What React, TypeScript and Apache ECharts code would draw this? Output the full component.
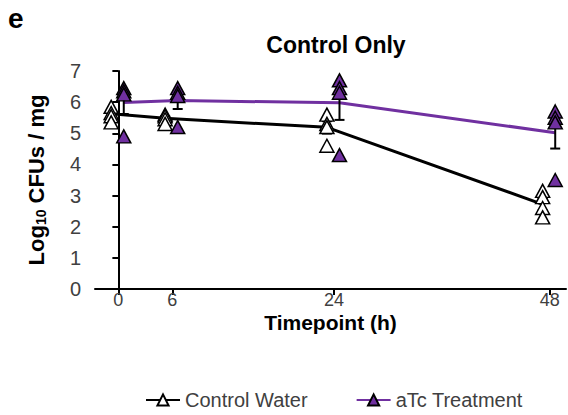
import React, { useEffect, useRef } from "react";
import * as echarts from "echarts";

const hours = [0, 6, 24, 48];
const tickLabels = ["0", "6", "24", "48"];
const controlMean = [5.63, 5.48, 5.19, 2.72];
const controlSem = [0.1, 0.07, 0.2, 0.2];
const atcMean = [5.99, 6.05, 5.98, 5.02];
const atcSem = [0.37, 0.27, 0.55, 0.51];
const controlReps = [
  [5.85, 5.65, 5.55, 5.35],
  [5.6, 5.55, 5.45, 5.3],
  [5.6, 5.3, 5.2, 4.6],
  [3.15, 2.95, 2.6, 2.3],
];
const atcReps = [
  [6.45, 6.35, 6.25, 4.9],
  [6.45, 6.3, 6.2, 5.2],
  [6.7, 6.45, 6.3, 4.3],
  [5.7, 5.5, 5.35, 3.5],
];

const PURPLE = "#7030A0";
const FONT = "'Liberation Sans', Arial, sans-serif";
const CTRL_OFF = -0.8;
const ATC_OFF = 0.6;

function errorSeries(means: number[], sems: number[], off: number, color: string) {
  return {
    type: "custom",
    name: "err",
    z: 3,
    silent: true,
    data: hours.map((h, i) => [h + off, means[i], sems[i]]),
    renderItem: (params: any, api: any) => {
      const x = api.value(0);
      const m = api.value(1);
      const s = api.value(2);
      const top = api.coord([x, m + s]);
      const bot = api.coord([x, m - s]);
      const w = 5;
      const style = { stroke: color, lineWidth: 2 };
      return {
        type: "group",
        children: [
          { type: "line", shape: { x1: top[0], y1: top[1], x2: bot[0], y2: bot[1] }, style },
          { type: "line", shape: { x1: top[0] - w, y1: top[1], x2: top[0] + w, y2: top[1] }, style },
          { type: "line", shape: { x1: bot[0] - w, y1: bot[1], x2: bot[0] + w, y2: bot[1] }, style },
        ],
      };
    },
  };
}

function repPoints(reps: number[][], off: number) {
  const out: number[][] = [];
  reps.forEach((arr, i) => arr.forEach((v) => out.push([hours[i] + off, v])));
  return out;
}

export default function App() {
  const ref = useRef<HTMLDivElement>(null);
  useEffect(() => {
    document.body.style.margin = "0";
    const chart = echarts.init(ref.current!, undefined, { renderer: "svg" });
    chart.setOption({
      animation: false,
      textStyle: { fontFamily: FONT },
      grid: { left: 95, right: 2, top: 71, bottom: 126 },
      graphic: [
        { type: "text", left: 8, top: 4, style: { text: "e", font: `bold 28px ${FONT}`, fill: "#000" } },
        {
          type: "text",
          x: 336,
          y: 45,
          style: { text: "Control Only", font: `bold 23px ${FONT}`, fill: "#000", align: "center", verticalAlign: "middle" },
        },
      ],
      legend: {
        data: ["Control Water", "aTc Treatment"],
        left: 140,
        top: 385,
        itemWidth: 34,
        itemHeight: 14,
        itemGap: 48,
        textStyle: { fontSize: 20, color: "#404040", fontFamily: FONT },
      },
      xAxis: {
        type: "value",
        min: -2.6,
        max: 49.8,
        splitLine: { show: false },
        axisLine: { lineStyle: { color: "#000", width: 2 } },
        axisTick: { show: true, customValues: hours, length: 6, lineStyle: { color: "#000", width: 2 } },
        axisLabel: {
          customValues: hours,
          formatter: (v: number) => tickLabels[hours.indexOf(v)] ?? "",
          fontSize: 18,
          lineHeight: 18,
          color: "#404040",
          margin: 2,
        },
        name: "Timepoint (h)",
        nameLocation: "middle",
        nameGap: 23,
        nameMoveOverlap: false,
        nameTextStyle: { fontSize: 21, fontWeight: "bold", color: "#000" },
      },
      yAxis: {
        type: "value",
        min: 0,
        max: 7,
        interval: 1,
        splitLine: { show: false },
        axisLine: { show: true, lineStyle: { color: "#000", width: 2 } },
        axisTick: { show: true, length: 6, lineStyle: { color: "#000", width: 2 } },
        axisLabel: { fontSize: 20, color: "#404040", margin: 14 },
        name: "{a|Log}{s|10}{a| CFUs / mg}",
        nameLocation: "middle",
        nameGap: 47,
        nameMoveOverlap: false,
        nameTextStyle: {
          rich: {
            a: { fontSize: 22, fontWeight: "bold", color: "#000", fontFamily: FONT },
            s: { fontSize: 14, fontWeight: "bold", color: "#000", fontFamily: FONT, padding: [10, 0, 0, 0] },
          },
        },
      },
      series: [
        {
          type: "line",
          name: "Control Water",
          z: 2,
          data: hours.map((h, i) => [h + CTRL_OFF, controlMean[i]]),
          showSymbol: false,
          symbol: "triangle",
          symbolSize: [14, 13],
          lineStyle: { color: "#000", width: 3 },
          itemStyle: { color: "#fff", borderColor: "#000", borderWidth: 1.5 },
        },
        {
          type: "line",
          name: "aTc Treatment",
          z: 2,
          data: hours.map((h, i) => [h + ATC_OFF, atcMean[i]]),
          showSymbol: false,
          symbol: "triangle",
          symbolSize: [14, 13],
          lineStyle: { color: PURPLE, width: 3 },
          itemStyle: { color: PURPLE, borderColor: "#000", borderWidth: 1.5 },
        },
        errorSeries(controlMean, controlSem, CTRL_OFF, "#000"),
        errorSeries(atcMean, atcSem, ATC_OFF, "#000"),
        {
          type: "scatter",
          name: "ctrlPts",
          z: 4,
          data: repPoints(controlReps, CTRL_OFF),
          symbol: "triangle",
          symbolSize: [14, 13],
          itemStyle: { color: "#fff", borderColor: "#000", borderWidth: 1.5, opacity: 1 },
        },
        {
          type: "scatter",
          name: "atcPts",
          z: 4,
          data: repPoints(atcReps, ATC_OFF),
          symbol: "triangle",
          symbolSize: [14, 13],
          itemStyle: { color: PURPLE, borderColor: "#000", borderWidth: 1.5, opacity: 1 },
        },
      ],
    });
    return () => chart.dispose();
  }, []);
  return <div ref={ref} style={{ width: 568, height: 415 }} />;
}
